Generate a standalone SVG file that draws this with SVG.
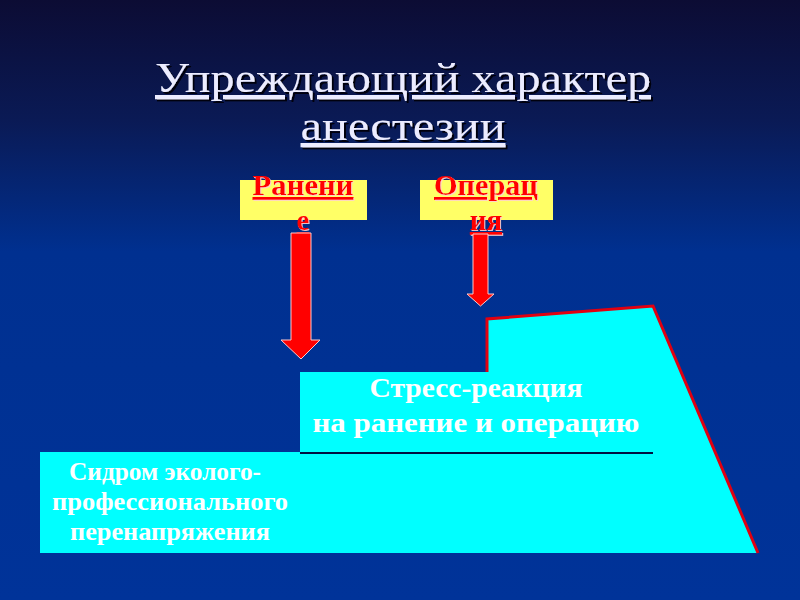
<svg xmlns="http://www.w3.org/2000/svg" width="800" height="600" viewBox="0 0 800 600">
  <defs>
    <linearGradient id="bg" x1="0" y1="0" x2="0" y2="1">
      <stop offset="0" stop-color="#0c0c34"/>
      <stop offset="0.2" stop-color="#0a1a55"/>
      <stop offset="0.42" stop-color="#003090"/>
      <stop offset="1" stop-color="#003399"/>
    </linearGradient>
    <filter id="darkShadow" x="-5%" y="-20%" width="110%" height="140%">
      <feDropShadow dx="2" dy="2" stdDeviation="0.6" flood-color="#000010" flood-opacity="1"/>
    </filter>
    <filter id="lightShadow" x="-5%" y="-20%" width="110%" height="140%">
      <feDropShadow dx="1" dy="1" stdDeviation="0.5" flood-color="#ffd0d0" flood-opacity="0.9"/>
    </filter>
    <style>
      .title { font-family: "Liberation Serif", "Times New Roman", serif; font-size: 43px; fill: #ececff; text-decoration: underline; filter: url(#darkShadow); }
      .lbl { font-family: "Liberation Serif", "Times New Roman", serif; font-size: 29px; font-weight: bold; fill: #ff0000; text-decoration: underline; filter: url(#lightShadow); }
      .ybox { fill: #ffff66; }
      .arrow { fill: #ff0000; stroke: #ffc8c8; stroke-width: 1; }
      .cyan { fill: #00ffff; }
      .wtext { font-family: "Liberation Serif", "Times New Roman", serif; font-weight: bold; fill: #ffffff; }
    </style>
  </defs>

  <rect x="0" y="0" width="800" height="600" fill="url(#bg)"/>

  <g id="title">
    <text class="title" x="403" y="92" text-anchor="middle" textLength="496" lengthAdjust="spacingAndGlyphs">Упреждающий характер</text>
    <text class="title" x="403" y="140" text-anchor="middle" textLength="205" lengthAdjust="spacingAndGlyphs">анестезии</text>
  </g>

  <g id="node-base">
    <polygon class="cyan" points="40,452 300,452 300,372 487,372 487,319 653,306 758,553 40,553"/>
    <polyline points="487,372 487,319 653,306 758,553" fill="none" stroke="#e00010" stroke-width="3" stroke-linejoin="miter"/>
    <line x1="300" y1="453" x2="653" y2="453" stroke="#001040" stroke-width="2"/>
  </g>

  <g id="node-stress">
    <text class="wtext" x="476" y="397" font-size="28" text-anchor="middle" textLength="213" lengthAdjust="spacingAndGlyphs">Стресс-реакция</text>
    <text class="wtext" x="476" y="432" font-size="28" text-anchor="middle" textLength="327" lengthAdjust="spacingAndGlyphs">на ранение и операцию</text>
  </g>

  <g id="node-syndrome">
    <text class="wtext" x="165" y="480" font-size="26" text-anchor="middle" textLength="192" lengthAdjust="spacingAndGlyphs">Сидром эколого-</text>
    <text class="wtext" x="170" y="510" font-size="26" text-anchor="middle" textLength="236" lengthAdjust="spacingAndGlyphs">профессионального</text>
    <text class="wtext" x="170" y="540" font-size="26" text-anchor="middle" textLength="200" lengthAdjust="spacingAndGlyphs">перенапряжения</text>
  </g>

  <g id="node-ranenie">
    <rect class="ybox" x="240" y="180" width="127" height="40"/>
    <text class="lbl" x="303" y="195" text-anchor="middle" textLength="101" lengthAdjust="spacingAndGlyphs">Ранени</text>
    <text class="lbl" x="303" y="230" text-anchor="middle">е</text>
  </g>

  <g id="node-operaciya">
    <rect class="ybox" x="420" y="180" width="133" height="40"/>
    <text class="lbl" x="486" y="195" text-anchor="middle" textLength="104" lengthAdjust="spacingAndGlyphs">Операц</text>
    <text class="lbl" x="486" y="230" text-anchor="middle">ия</text>
  </g>

  <g id="connectors">
    <polygon class="arrow" points="291,233 311,233 311,340 320,340 301,359 281,340 291,340"/>
    <polygon class="arrow" points="473,234 488,234 488,294 494,294 480.5,306 467,294 473,294"/>
  </g>
</svg>
